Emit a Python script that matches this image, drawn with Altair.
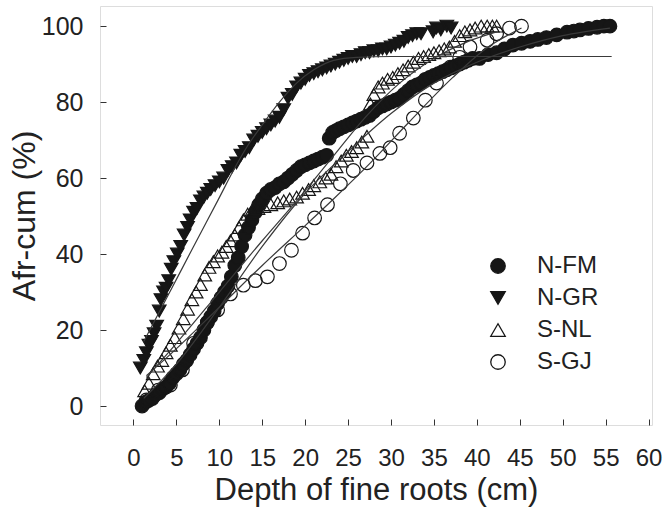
import altair as alt
import pandas as pd

# Cumulative fine-root abundance (%) against soil depth (cm) for four stands
SERIES = ["N-FM", "N-GR", "S-NL", "S-GJ"]

nfm_depth = [1.0, 1.4, 1.8, 2.2, 2.6, 3.0, 3.4, 3.8, 4.2, 4.6, 5.0, 5.4, 5.8, 6.2, 6.6,
             7.0, 7.4, 7.8, 8.2, 8.6, 9.0, 9.4, 9.8, 10.2, 10.6, 11.0, 11.4, 11.8, 12.2,
             12.6, 13.0, 13.4, 13.8, 14.2, 14.6, 15.0, 15.5, 16.0, 16.5, 17.0, 17.5, 18.0,
             18.5, 19.0, 19.5, 20.0, 20.5, 21.0, 21.5, 22.0, 22.5, 22.8, 23.2, 23.6, 24.0,
             24.5, 25.0, 25.5, 26.0, 26.5, 27.0, 27.5, 28.0, 28.5, 29.0, 29.5, 30.0, 30.5,
             31.0, 31.5, 32.0, 32.5, 33.0, 33.5, 34.0, 34.5, 35.0, 35.5, 36.0, 36.5, 37.0,
             37.5, 38.0, 38.5, 39.0, 39.5, 40.3, 41.3, 42.3, 43.2, 44.2, 45.2, 46.2, 47.1,
             48.1, 49.3, 50.5, 51.3, 52.0, 53.0, 54.0, 54.8, 55.5]
nfm_cum = [0, 1, 1.5, 2, 3, 3.5, 4.5, 5, 6, 7.5, 8.5, 9.5, 11, 12, 13.5,
           15, 16.5, 18, 20, 22, 23.5, 25, 27, 28.5, 30, 31.5, 34, 37, 39,
           42, 45, 47, 49, 51, 53, 54.5, 56, 57, 57.5, 58.5, 59, 60,
           61, 62, 63, 63.5, 64, 64.5, 65, 65.5, 66, 70.5, 72, 72.5, 73,
           73.5, 74, 74.5, 75, 75.5, 76, 76.5, 77.5, 78.5, 79, 79.5, 80, 80.5,
           81, 82, 83, 84, 84.5, 85, 86, 86.5, 87, 87.5, 88, 88.5, 89,
           89.5, 90, 90.5, 91, 91.5, 91.5, 92.5, 93, 94, 95, 95.5, 96, 96.5,
           97, 97.7, 98.4, 98.7, 99, 99.4, 99.7, 100, 100]

ngr_depth = [0.8, 1.2, 1.5, 1.8, 2.1, 2.4, 2.7, 3.0, 3.2, 3.5, 3.8, 4.1, 4.4, 4.7, 5.1,
             5.5, 5.9, 6.3, 6.6, 7.0, 7.4, 7.8, 8.2, 8.6, 9.0, 9.5, 10.0, 10.5, 11.0,
             11.5, 12.0, 12.5, 13.0, 13.5, 14.0, 14.5, 15.0, 15.5, 16.0, 16.5, 17.0, 17.5,
             18.0, 18.5, 19.0, 19.5, 20.0, 20.5, 21.0, 21.5, 22.0, 22.5, 23.0, 23.5, 24.0,
             24.5, 25.0, 25.5, 26.0, 26.5, 27.0, 27.5, 28.0, 28.5, 29.0, 29.5, 30.0, 30.5,
             31.0, 31.5, 32.0, 32.5, 33.0, 33.5, 34.9, 35.3, 35.8, 36.5, 37.0]
ngr_cum = [10, 12, 14, 16, 17, 19, 21, 25, 28, 30, 31, 33, 36, 38, 40,
           42, 45, 47, 49, 51, 52, 54, 55, 56, 57, 58, 59, 60, 62,
           63, 64, 66, 67, 68, 70, 71, 72, 73, 74, 75, 76, 78,
           81, 82, 84, 85, 86, 87, 87.5, 88, 88.5, 89, 89.5, 90, 90.5,
           91, 91.5, 92, 92, 92.5, 93, 93, 93.5, 93.5, 94, 94, 94.5, 95,
           95.5, 96, 97, 97.5, 98, 98, 98.5, 99.5, 99, 100, 99.5]

snl_depth = [1.3, 1.8, 2.3, 2.8, 3.3, 3.8, 4.3, 4.8, 5.3, 5.8, 6.3, 6.8, 7.3, 7.8, 8.3,
             8.8, 9.3, 9.8, 10.3, 10.8, 11.3, 11.8, 12.3, 12.8, 13.3, 13.8, 14.5, 15.2,
             16.0, 16.8, 17.5, 18.2, 19.0, 19.7, 20.4, 21.0, 21.7, 22.4, 23.0, 23.6, 24.2,
             24.8, 25.4, 26.0, 26.6, 27.2, 27.6, 28.0, 28.5, 29.0, 29.6, 30.2, 30.8, 31.4,
             32.0, 32.6, 33.2, 33.8, 34.4, 35.0, 35.6, 36.2, 36.8, 37.4, 38.0, 38.6, 39.2,
             39.8, 40.5, 41.2, 41.8, 42.3]
snl_cum = [4, 6, 8.5, 10.5, 12, 14, 16, 18, 20.5, 23, 25.5, 28, 30, 32, 34.5,
           36.5, 38, 39.5, 40.5, 42, 43.5, 45, 47, 49, 50.5, 51.5, 52, 52.5,
           53, 53.5, 54, 54.5, 55, 56, 57, 58, 59, 60, 61, 63, 64.5,
           66, 67, 68, 69.5, 71, 79.5, 82, 84, 85, 86, 86.5, 87.5, 88.5,
           89.5, 90.5, 91.5, 92, 92.5, 93, 93.5, 94, 94.5, 96, 97.5, 98.5, 99,
           99.5, 100, 100, 100, 100]

sgj_depth = [1.5, 2.9, 4.3, 5.7, 7.0, 8.6, 9.8, 11.3, 12.8, 14.2, 15.6, 17.0, 18.4,
             19.7, 21.1, 22.6, 24.1, 25.6, 27.2, 28.7, 29.9, 31.0, 32.6, 34.0, 35.3,
             36.9, 38.0, 39.2, 41.2, 42.3, 43.8, 45.2]
sgj_cum = [1.6, 4.2, 5.5, 9.5, 16.5, 22, 25.3, 29.5, 31.8, 33, 34, 37.5, 41,
           45.5, 49.5, 53, 58.5, 62, 64, 66.5, 68, 71.8, 75.8, 80.5, 85,
           89.2, 91.8, 94.5, 96.3, 98, 99.5, 100]

# Fitted curves, one per stand
fit_nfm_depth = [1.2, 5, 10, 15, 20, 25, 30, 35, 40, 45, 50, 55.5]
fit_nfm_cum = [2, 11, 26, 42, 56, 67, 77, 85, 90.5, 94.5, 97.5, 99.5]
fit_ngr_depth = [1.2, 4, 7, 9.8, 12, 13.3, 15, 17, 19, 21, 23.3, 26, 30, 40, 55.7]
fit_ngr_cum = [17, 29, 42, 54, 63.5, 68.5, 74, 80, 85, 88.5, 91, 91.8, 92, 92, 92]
fit_snl_depth = [1.5, 5, 10, 15, 19, 23, 27, 31, 35, 39, 42.3]
fit_snl_cum = [7.5, 16.5, 30, 43.5, 54, 65, 76, 85, 91.5, 96, 98.5]
fit_sgj_depth = [1.5, 4, 10, 15, 20, 23.3, 27.6, 32, 37.2, 41, 45.2]
fit_sgj_cum = [8, 13, 26, 37, 47.5, 54.5, 64, 74.5, 86.5, 94, 99.5]

pts = pd.concat([
    pd.DataFrame({"site": s, "depth": d, "cum": c})
    for s, d, c in [("N-FM", nfm_depth, nfm_cum), ("N-GR", ngr_depth, ngr_cum),
                    ("S-NL", snl_depth, snl_cum), ("S-GJ", sgj_depth, sgj_cum)]
])
fits = pd.concat([
    pd.DataFrame({"site": s, "depth": d, "cum": c})
    for s, d, c in [("N-FM", fit_nfm_depth, fit_nfm_cum), ("N-GR", fit_ngr_depth, fit_ngr_cum),
                    ("S-NL", fit_snl_depth, fit_snl_cum), ("S-GJ", fit_sgj_depth, fit_sgj_cum)]
])

FONT = "Liberation Sans"
INK = "#161616"

x_scale = alt.Scale(domain=[-3.9, 60.4], nice=False, zero=False)
y_scale = alt.Scale(domain=[-5, 105.3], nice=False, zero=False)

x_axis = alt.Axis(title="Depth of fine roots (cm)", values=list(range(0, 61, 5)),
                  grid=False, domain=False, offset=-6, tickSize=6, tickColor="#333",
                  labelPadding=21, labelFontSize=24, titleFontSize=31, labelFont=FONT,
                  titleFont=FONT, labelColor="#222", titleColor="#222",
                  titleFontWeight="normal", titlePadding=5)
y_axis = alt.Axis(title="Afr-cum (%)", values=list(range(0, 101, 20)),
                  grid=False, domain=False, offset=-6, tickSize=6, tickColor="#333",
                  labelPadding=17, labelFontSize=25, titleFontSize=32, labelFont=FONT,
                  titleFont=FONT, labelColor="#222", titleColor="#222",
                  titleFontWeight="normal", titlePadding=0)

legend = alt.Legend(title=None, orient="none", legendX=386, legendY=248,
                    labelFontSize=24, labelFont=FONT, labelColor="#222",
                    symbolSize=210, symbolStrokeWidth=1.3, labelOffset=27,
                    rowPadding=8, padding=0)

points = alt.Chart(pts).mark_point(size=185, strokeWidth=1.2, stroke=INK, opacity=1).encode(
    x=alt.X("depth:Q", scale=x_scale, axis=x_axis),
    y=alt.Y("cum:Q", scale=y_scale, axis=y_axis),
    shape=alt.Shape("site:N", scale=alt.Scale(domain=SERIES,
                    range=["circle", "triangle-down", "triangle-up", "circle"]), legend=legend),
    fill=alt.Fill("site:N", scale=alt.Scale(domain=SERIES,
                  range=[INK, INK, "transparent", "transparent"]), legend=legend),
)

curves = alt.Chart(fits).mark_line(interpolate="monotone", color="#3a3a3a", strokeWidth=1.2).encode(
    x="depth:Q", y="cum:Q", detail="site:N"
)

chart = alt.layer(points, curves).properties(
    width=552, height=419, autosize=alt.AutoSizeParams(type="none")
).configure_view(stroke="#333", strokeWidth=1.5).configure(
    padding={"left": 100, "top": 6, "right": 13, "bottom": 82}
)

chart.save("out.html", embed_options={"renderer": "svg", "actions": False})
